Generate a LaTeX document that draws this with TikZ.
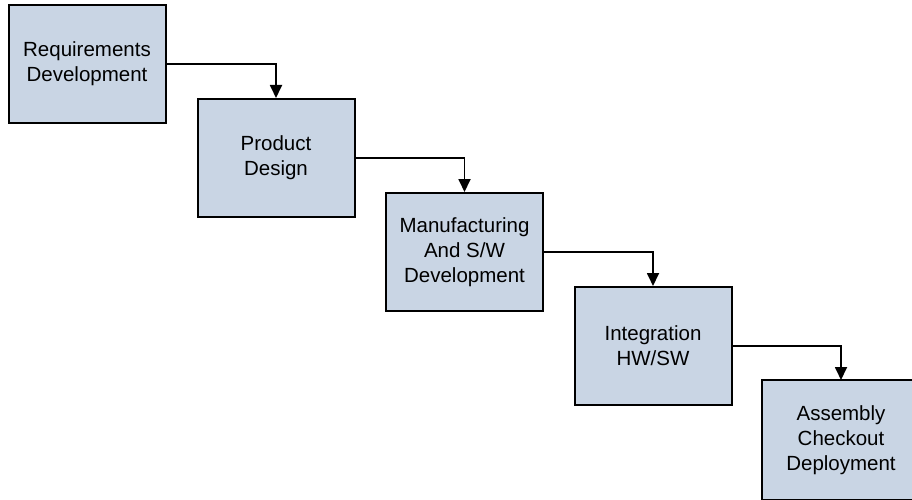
\documentclass[tikz,border=0pt]{standalone}
\usepackage{fontspec}
\setmainfont{Liberation Sans}
\usetikzlibrary{arrows.meta,backgrounds}
\definecolor{boxfill}{RGB}{201,213,228}
\begin{document}
\begin{tikzpicture}[x=1pt,y=-1pt,
  frame/.style={draw=black, line width=2pt, fill=boxfill},
  stage/.style={frame, minimum width=157pt, minimum height=118pt, align=center, font=\fontsize{20.5}{24.8}\selectfont, inner sep=0pt},
  flow/.style={draw=black, line width=1.8pt, -{Triangle[width=12pt,length=13pt]}}]
\useasboundingbox (0,0) rectangle (912,500);
\clip (0,0) rectangle (912,500);
\node[stage] (req) at (87,64) {Requirements\\Development};
\node[stage] (des) at (276,158) {Product\\Design};
\node[stage] (man) at (464.5,252) {Manufacturing\\And S/W\\Development};
\node[stage] (int) at (653,346) {Integration\\HW/SW};
\node[stage, draw=none, fill=none] (asm) at (841,440) {Assembly\\Checkout\\Deployment};
\begin{scope}[on background layer]
  \path[frame] (asm.north west) rectangle ([xshift=30pt]asm.south east);
\end{scope}
\draw[flow] (req.east) -| (des.north);
\draw[flow] (des.east) -| (man.north);
\draw[flow] (man.east) -| (int.north);
\draw[flow] (int.east) -| (asm.north);
\end{tikzpicture}
\end{document}
